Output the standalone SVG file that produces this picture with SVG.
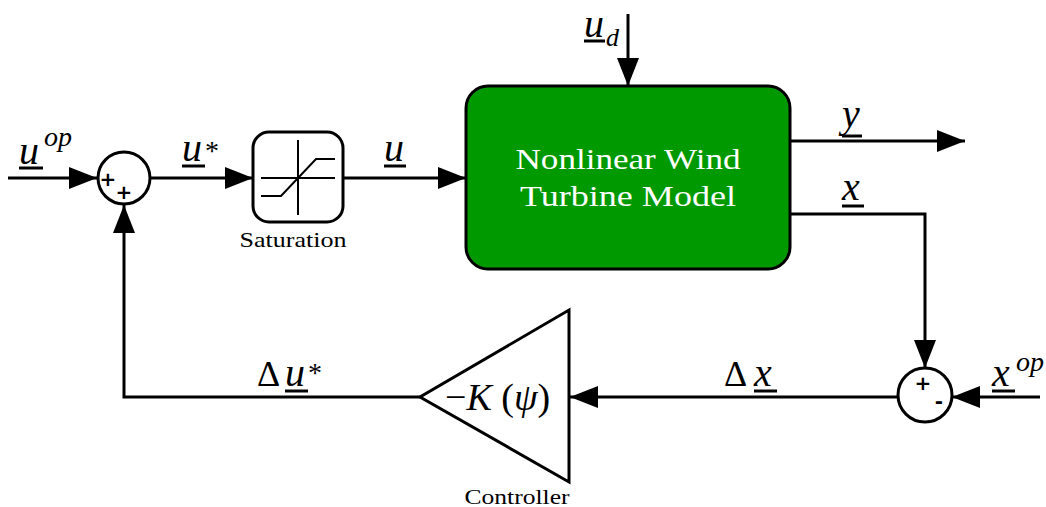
<svg xmlns="http://www.w3.org/2000/svg" width="1046" height="507" viewBox="0 0 1046 507">
<defs>
<marker id="ah" markerUnits="userSpaceOnUse" markerWidth="30" markerHeight="22" refX="28" refY="11" orient="auto">
<path d="M0,0 L28,11 L0,22 Z" fill="#000"/>
</marker>
<style>
.ln{fill:none;stroke:#000;stroke-width:3}
.m{font-family:"Liberation Serif",serif;font-style:italic;fill:#000}
.t{font-family:"Liberation Serif",serif;fill:#000}
.ul{stroke:#000;stroke-width:3}
.pm{font-family:"DejaVu Sans",sans-serif;font-weight:bold;font-size:20px;fill:#000}
</style>
</defs>
<rect width="1046" height="507" fill="#fff"/>
<g id="connectors">
<line class="ln" x1="8" y1="178" x2="97" y2="178" marker-end="url(#ah)"/>
<line class="ln" x1="150" y1="178" x2="253" y2="178" marker-end="url(#ah)"/>
<line class="ln" x1="343" y1="178" x2="466" y2="178" marker-end="url(#ah)"/>
<line class="ln" x1="628" y1="14" x2="628" y2="86" marker-end="url(#ah)"/>
<line class="ln" x1="790" y1="141" x2="965" y2="141" marker-end="url(#ah)"/>
<polyline class="ln" points="790,214 925,214 925,368" marker-end="url(#ah)"/>
<line class="ln" x1="1040" y1="397" x2="952" y2="397" marker-end="url(#ah)"/>
<line class="ln" x1="898" y1="397" x2="570" y2="397" marker-end="url(#ah)"/>
<polyline class="ln" points="420,397 124,397 124,205" marker-end="url(#ah)"/>
</g>
<g id="sum1">
<circle class="ln" cx="124" cy="178" r="26"/>
<text class="pm" x="108" y="186" text-anchor="middle">+</text>
<text class="pm" x="124" y="199" text-anchor="middle">+</text>
</g>
<g id="saturation">
<rect class="ln" x="253" y="132" width="90" height="90" rx="16"/>
<line x1="261" y1="178" x2="335" y2="178" stroke="#000" stroke-width="2"/>
<line x1="298" y1="140" x2="298" y2="215" stroke="#000" stroke-width="2"/>
<polyline points="261,196 281,196 316,159 335,159" fill="none" stroke="#000" stroke-width="2"/>
<text class="t" x="293" y="247" font-size="21" text-anchor="middle" textLength="107" lengthAdjust="spacingAndGlyphs">Saturation</text>
</g>
<g id="model">
<rect x="466" y="86" width="324" height="183" rx="22" fill="#009900" stroke="#000" stroke-width="3"/>
<text class="t" x="628" y="169" font-size="30" text-anchor="middle" textLength="225" lengthAdjust="spacingAndGlyphs" style="fill:#fff">Nonlinear Wind</text>
<text class="t" x="628" y="206" font-size="30" text-anchor="middle" textLength="216" lengthAdjust="spacingAndGlyphs" style="fill:#fff">Turbine Model</text>
</g>
<g id="sum2">
<circle class="ln" cx="925" cy="395" r="27"/>
<text class="pm" x="923" y="390" text-anchor="middle">+</text>
<text class="pm" x="939" y="408" text-anchor="middle">-</text>
</g>
<g id="controller">
<polygon class="ln" points="569,310 569,482 420,397"/>
<text x="445" y="410" font-size="38"><tspan class="t">−</tspan><tspan class="m">K</tspan><tspan class="t"> (</tspan><tspan class="m">ψ</tspan><tspan class="t">)</tspan></text>
<text class="t" x="517" y="504" font-size="21" text-anchor="middle" textLength="105" lengthAdjust="spacingAndGlyphs">Controller</text>
</g>
<g id="labels">
<text class="m" x="19" y="164" font-size="40">u</text>
<line class="ul" x1="19" y1="168" x2="43" y2="168"/>
<text class="m" x="44" y="146" font-size="28">op</text>
<text class="m" x="182" y="161" font-size="40">u</text>
<line class="ul" x1="182" y1="166" x2="205" y2="166"/>
<text class="t" x="205" y="160" font-size="28">*</text>
<text class="m" x="384" y="161" font-size="40">u</text>
<line class="ul" x1="384" y1="166" x2="406" y2="166"/>
<text class="m" x="584" y="37" font-size="40">u</text>
<line class="ul" x1="584" y1="41" x2="605" y2="41"/>
<text class="m" x="606" y="46" font-size="26">d</text>
<text class="m" x="842" y="127" font-size="40">y</text>
<line class="ul" x1="842" y1="136" x2="862" y2="136"/>
<text class="m" x="842" y="200" font-size="40">x</text>
<line class="ul" x1="842" y1="206" x2="864" y2="206"/>
<text class="t" x="257" y="386" font-size="36">Δ</text>
<text class="m" x="285" y="386" font-size="40">u</text>
<line class="ul" x1="285" y1="391" x2="308" y2="391"/>
<text class="t" x="308" y="382" font-size="28">*</text>
<text class="t" x="724" y="386" font-size="36">Δ</text>
<text class="m" x="754" y="386" font-size="40">x</text>
<line class="ul" x1="754" y1="391" x2="777" y2="391"/>
<text class="m" x="992" y="386" font-size="40">x</text>
<line class="ul" x1="992" y1="391" x2="1015" y2="391"/>
<text class="m" x="1016" y="371" font-size="28">op</text>
</g>
</svg>
